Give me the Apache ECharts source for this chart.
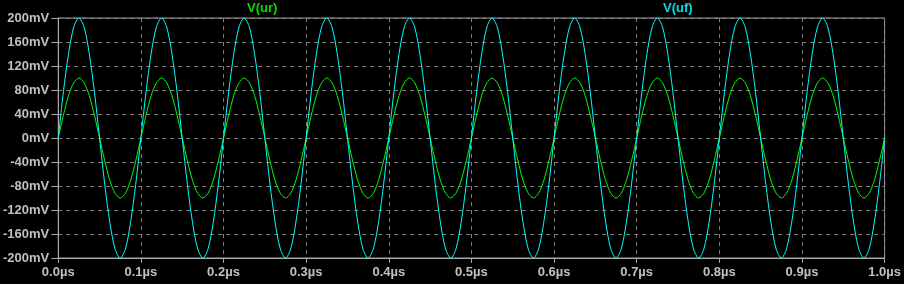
<!DOCTYPE html>
<html><head><meta charset="utf-8">
<script src="https://cdn.jsdelivr.net/npm/echarts@6/dist/echarts.min.js"></script>
<style>html,body{margin:0;padding:0;background:#000;}#c{width:904px;height:284px;}</style>
</head><body><div id="c"></div>
<script>
// time in ns
const timeNs = [
0,6.25,12.5,18.75,25,31.25,37.5,43.75,50,56.25,62.5,68.75,75,81.25,87.5,93.75,
100,106.25,112.5,118.75,125,131.25,137.5,143.75,150,156.25,162.5,168.75,175,181.25,187.5,193.75,
200,206.25,212.5,218.75,225,231.25,237.5,243.75,250,256.25,262.5,268.75,275,281.25,287.5,293.75,
300,306.25,312.5,318.75,325,331.25,337.5,343.75,350,356.25,362.5,368.75,375,381.25,387.5,393.75,
400,406.25,412.5,418.75,425,431.25,437.5,443.75,450,456.25,462.5,468.75,475,481.25,487.5,493.75,
500,506.25,512.5,518.75,525,531.25,537.5,543.75,550,556.25,562.5,568.75,575,581.25,587.5,593.75,
600,606.25,612.5,618.75,625,631.25,637.5,643.75,650,656.25,662.5,668.75,675,681.25,687.5,693.75,
700,706.25,712.5,718.75,725,731.25,737.5,743.75,750,756.25,762.5,768.75,775,781.25,787.5,793.75,
800,806.25,812.5,818.75,825,831.25,837.5,843.75,850,856.25,862.5,868.75,875,881.25,887.5,893.75,
900,906.25,912.5,918.75,925,931.25,937.5,943.75,950,956.25,962.5,968.75,975,981.25,987.5,993.75,
1000];
// V(uf) in mV
const vUf = [
0,77,141,185,200,185,141,77,0,-77,-141,-185,-200,-185,-141,-77,
0,77,141,185,200,185,141,77,0,-77,-141,-185,-200,-185,-141,-77,
0,77,141,185,200,185,141,77,0,-77,-141,-185,-200,-185,-141,-77,
0,77,141,185,200,185,141,77,0,-77,-141,-185,-200,-185,-141,-77,
0,77,141,185,200,185,141,77,0,-77,-141,-185,-200,-185,-141,-77,
0,77,141,185,200,185,141,77,0,-77,-141,-185,-200,-185,-141,-77,
0,77,141,185,200,185,141,77,0,-77,-141,-185,-200,-185,-141,-77,
0,77,141,185,200,185,141,77,0,-77,-141,-185,-200,-185,-141,-77,
0,77,141,185,200,185,141,77,0,-77,-141,-185,-200,-185,-141,-77,
0,77,141,185,200,185,141,77,0,-77,-141,-185,-200,-185,-141,-77,
0];
// V(ur) in mV
const vUr = [
0,38,71,92,100,92,71,38,0,-38,-71,-92,-100,-92,-71,-38,
0,38,71,92,100,92,71,38,0,-38,-71,-92,-100,-92,-71,-38,
0,38,71,92,100,92,71,38,0,-38,-71,-92,-100,-92,-71,-38,
0,38,71,92,100,92,71,38,0,-38,-71,-92,-100,-92,-71,-38,
0,38,71,92,100,92,71,38,0,-38,-71,-92,-100,-92,-71,-38,
0,38,71,92,100,92,71,38,0,-38,-71,-92,-100,-92,-71,-38,
0,38,71,92,100,92,71,38,0,-38,-71,-92,-100,-92,-71,-38,
0,38,71,92,100,92,71,38,0,-38,-71,-92,-100,-92,-71,-38,
0,38,71,92,100,92,71,38,0,-38,-71,-92,-100,-92,-71,-38,
0,38,71,92,100,92,71,38,0,-38,-71,-92,-100,-92,-71,-38,
0];
const seriesNames = ['V(ur)', 'V(uf)'];

const pairs = (ys) => timeNs.map((t, i) => [t, ys[i]]);
const labelColor = '#c0c0c0';
const gridColor = '#808080';
const font = 'Liberation Sans, Arial, sans-serif';
const chart = echarts.init(document.getElementById('c'), null, {renderer: 'canvas'});
chart.setOption({
  backgroundColor: '#000',
  animation: false,
  grid: {left: 54, right: 16, top: 18, bottom: 26, show: true, borderColor: '#a8a8a8', borderWidth: 1, containLabel: false},
  legend: [
    {data: [seriesNames[0]], left: 242, top: 2, padding: 0, itemWidth: 0, itemHeight: 0, itemGap: 0, icon: 'rect',
     textStyle: {color: '#00e000', fontFamily: font, fontWeight: 'bold', fontSize: 13}},
    {data: [seriesNames[1]], left: 658, top: 2, padding: 0, itemWidth: 0, itemHeight: 0, itemGap: 0, icon: 'rect',
     textStyle: {color: '#00e0e0', fontFamily: font, fontWeight: 'bold', fontSize: 13}}
  ],
  xAxis: {
    type: 'value', min: 0, max: 1000, interval: 100,
    axisLine: {show: true, onZero: false, lineStyle: {color: '#a8a8a8'}},
    axisTick: {show: true, length: 5, lineStyle: {color: '#a8a8a8'}},
    axisLabel: {color: labelColor, fontFamily: font, fontWeight: 'bold', fontSize: 13, margin: 8,
      formatter: v => (v / 1000).toFixed(1) + 'µs'},
    splitLine: {show: true, lineStyle: {color: gridColor, type: [4, 4], width: 1}}
  },
  yAxis: {
    type: 'value', min: -200, max: 200, interval: 40,
    axisLine: {show: true, onZero: false, lineStyle: {color: '#a8a8a8'}},
    axisTick: {show: true, length: 7, lineStyle: {color: '#a8a8a8'}},
    axisLabel: {color: labelColor, fontFamily: font, fontWeight: 'bold', fontSize: 13, margin: 9,
      formatter: v => v + 'mV'},
    splitLine: {show: true, lineStyle: {color: gridColor, type: [4, 4], width: 1}}
  },
  series: [
    {name: seriesNames[0], type: 'line', data: pairs(vUr), smooth: 0.3, showSymbol: false,
     lineStyle: {color: '#00ff00', width: 1}, itemStyle: {color: '#00ff00'}, z: 2},
    {name: seriesNames[1], type: 'line', data: pairs(vUf), smooth: 0.3, showSymbol: false,
     lineStyle: {color: '#00ffff', width: 1}, itemStyle: {color: '#00ffff'}, z: 3}
  ]
});
</script></body></html>
